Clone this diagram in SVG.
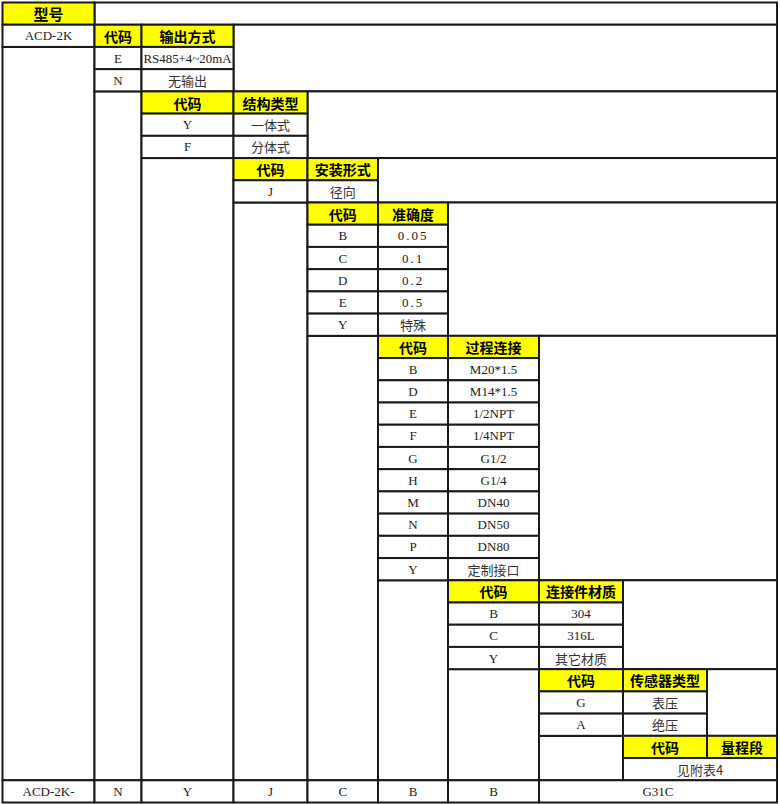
<svg xmlns="http://www.w3.org/2000/svg" width="780" height="804" viewBox="0 0 780 804">
<style>
rect{stroke:#1a1a1a;stroke-width:2}
.y{fill:#ffff00}
.w{fill:#ffffff}
text{text-anchor:middle;dominant-baseline:central}
.h{font-family:"Noto Sans CJK SC",sans-serif;font-weight:bold;font-size:14px;fill:#000}
.t{font-family:"Liberation Serif","Noto Sans CJK SC",serif;font-size:13px;fill:#222}
.c{font-family:"Noto Sans CJK SC",sans-serif;font-size:13px;fill:#333}
</style>
<rect x="0" y="0" width="780" height="804" fill="#fff" style="stroke:none"/>
<g id="blanks">
<rect class="w" x="94.5" y="2.5" width="682.5" height="22.22"/>
<rect class="w" x="233.5" y="24.72" width="543.5" height="66.67"/>
<rect class="w" x="2.5" y="46.94" width="92" height="733.34"/>
<rect class="w" x="94.5" y="91.39" width="47" height="688.89"/>
<rect class="w" x="307.5" y="91.39" width="469.5" height="66.67"/>
<rect class="w" x="141.5" y="158.06" width="92" height="622.22"/>
<rect class="w" x="378" y="158.06" width="399" height="44.44"/>
<rect class="w" x="233.5" y="202.5" width="74" height="577.78"/>
<rect class="w" x="448" y="202.5" width="329" height="133.33"/>
<rect class="w" x="307.5" y="335.83" width="70.5" height="444.45"/>
<rect class="w" x="539" y="335.83" width="238" height="244.45"/>
<rect class="w" x="378" y="580.28" width="70" height="200"/>
<rect class="w" x="623" y="580.28" width="154" height="88.89"/>
<rect class="w" x="448" y="669.17" width="91" height="111.11"/>
<rect class="w" x="707" y="669.17" width="70" height="66.67"/>
<rect class="w" x="539" y="735.83" width="84" height="44.45"/>
</g>
<g id="model">
<rect class="y" x="2.5" y="2.5" width="92" height="22.22"/><text class="h" x="48.5" y="13.6" style="font-size:15px">型号</text>
<rect class="w" x="2.5" y="24.72" width="92" height="22.22"/><text class="t" x="48.5" y="35.8">ACD-2K</text>
</g>
<g id="output">
<rect class="y" x="94.5" y="24.72" width="47" height="22.22"/><text class="h" x="118" y="35.8">代码</text>
<rect class="y" x="141.5" y="24.72" width="92" height="22.22"/><text class="h" x="187.5" y="35.8">输出方式</text>
<rect class="w" x="94.5" y="46.94" width="47" height="22.22"/><text class="t" x="118" y="58.1">E</text>
<rect class="w" x="141.5" y="46.94" width="92" height="22.22"/><text class="t" x="187.5" y="58.1" textLength="88" lengthAdjust="spacingAndGlyphs">RS485+4~20mA</text>
<rect class="w" x="94.5" y="69.17" width="47" height="22.22"/><text class="t" x="118" y="80.3">N</text>
<rect class="w" x="141.5" y="69.17" width="92" height="22.22"/><text class="c" x="187.5" y="80.3">无输出</text>
</g>
<g id="structure">
<rect class="y" x="141.5" y="91.39" width="92" height="22.22"/><text class="h" x="187.5" y="102.5">代码</text>
<rect class="y" x="233.5" y="91.39" width="74" height="22.22"/><text class="h" x="270.5" y="102.5">结构类型</text>
<rect class="w" x="141.5" y="113.61" width="92" height="22.22"/><text class="t" x="187.5" y="124.7">Y</text>
<rect class="w" x="233.5" y="113.61" width="74" height="22.22"/><text class="c" x="270.5" y="124.7">一体式</text>
<rect class="w" x="141.5" y="135.83" width="92" height="22.22"/><text class="t" x="187.5" y="146.9">F</text>
<rect class="w" x="233.5" y="135.83" width="74" height="22.22"/><text class="c" x="270.5" y="146.9">分体式</text>
</g>
<g id="mounting">
<rect class="y" x="233.5" y="158.06" width="74" height="22.22"/><text class="h" x="270.5" y="169.2">代码</text>
<rect class="y" x="307.5" y="158.06" width="70.5" height="22.22"/><text class="h" x="342.75" y="169.2">安装形式</text>
<rect class="w" x="233.5" y="180.28" width="74" height="22.22"/><text class="t" x="270.5" y="191.4">J</text>
<rect class="w" x="307.5" y="180.28" width="70.5" height="22.22"/><text class="c" x="342.75" y="191.4">径向</text>
</g>
<g id="accuracy">
<rect class="y" x="307.5" y="202.5" width="70.5" height="22.22"/><text class="h" x="342.75" y="213.6">代码</text>
<rect class="y" x="378" y="202.5" width="70" height="22.22"/><text class="h" x="413" y="213.6">准确度</text>
<rect class="w" x="307.5" y="224.72" width="70.5" height="22.22"/><text class="t" x="342.75" y="235.8">B</text>
<rect class="w" x="378" y="224.72" width="70" height="22.22"/><text class="t" x="413" y="235.8" letter-spacing="2">0.05</text>
<rect class="w" x="307.5" y="246.94" width="70.5" height="22.22"/><text class="t" x="342.75" y="258.1">C</text>
<rect class="w" x="378" y="246.94" width="70" height="22.22"/><text class="t" x="413" y="258.1" letter-spacing="2">0.1</text>
<rect class="w" x="307.5" y="269.17" width="70.5" height="22.22"/><text class="t" x="342.75" y="280.3">D</text>
<rect class="w" x="378" y="269.17" width="70" height="22.22"/><text class="t" x="413" y="280.3" letter-spacing="2">0.2</text>
<rect class="w" x="307.5" y="291.39" width="70.5" height="22.22"/><text class="t" x="342.75" y="302.5">E</text>
<rect class="w" x="378" y="291.39" width="70" height="22.22"/><text class="t" x="413" y="302.5" letter-spacing="2">0.5</text>
<rect class="w" x="307.5" y="313.61" width="70.5" height="22.22"/><text class="t" x="342.75" y="324.7">Y</text>
<rect class="w" x="378" y="313.61" width="70" height="22.22"/><text class="c" x="413" y="324.7">特殊</text>
</g>
<g id="process">
<rect class="y" x="378" y="335.83" width="70" height="22.22"/><text class="h" x="413" y="346.9">代码</text>
<rect class="y" x="448" y="335.83" width="91" height="22.22"/><text class="h" x="493.5" y="346.9">过程连接</text>
<rect class="w" x="378" y="358.06" width="70" height="22.22"/><text class="t" x="413" y="369.2">B</text>
<rect class="w" x="448" y="358.06" width="91" height="22.22"/><text class="t" x="493.5" y="369.2">M20*1.5</text>
<rect class="w" x="378" y="380.28" width="70" height="22.22"/><text class="t" x="413" y="391.4">D</text>
<rect class="w" x="448" y="380.28" width="91" height="22.22"/><text class="t" x="493.5" y="391.4">M14*1.5</text>
<rect class="w" x="378" y="402.5" width="70" height="22.22"/><text class="t" x="413" y="413.6">E</text>
<rect class="w" x="448" y="402.5" width="91" height="22.22"/><text class="t" x="493.5" y="413.6">1/2NPT</text>
<rect class="w" x="378" y="424.72" width="70" height="22.22"/><text class="t" x="413" y="435.8">F</text>
<rect class="w" x="448" y="424.72" width="91" height="22.22"/><text class="t" x="493.5" y="435.8">1/4NPT</text>
<rect class="w" x="378" y="446.94" width="70" height="22.22"/><text class="t" x="413" y="458.1">G</text>
<rect class="w" x="448" y="446.94" width="91" height="22.22"/><text class="t" x="493.5" y="458.1">G1/2</text>
<rect class="w" x="378" y="469.17" width="70" height="22.22"/><text class="t" x="413" y="480.3">H</text>
<rect class="w" x="448" y="469.17" width="91" height="22.22"/><text class="t" x="493.5" y="480.3">G1/4</text>
<rect class="w" x="378" y="491.39" width="70" height="22.22"/><text class="t" x="413" y="502.5">M</text>
<rect class="w" x="448" y="491.39" width="91" height="22.22"/><text class="t" x="493.5" y="502.5">DN40</text>
<rect class="w" x="378" y="513.61" width="70" height="22.22"/><text class="t" x="413" y="524.7">N</text>
<rect class="w" x="448" y="513.61" width="91" height="22.22"/><text class="t" x="493.5" y="524.7">DN50</text>
<rect class="w" x="378" y="535.83" width="70" height="22.22"/><text class="t" x="413" y="546.9">P</text>
<rect class="w" x="448" y="535.83" width="91" height="22.22"/><text class="t" x="493.5" y="546.9">DN80</text>
<rect class="w" x="378" y="558.06" width="70" height="22.22"/><text class="t" x="413" y="569.2">Y</text>
<rect class="w" x="448" y="558.06" width="91" height="22.22"/><text class="c" x="493.5" y="569.2">定制接口</text>
</g>
<g id="material">
<rect class="y" x="448" y="580.28" width="91" height="22.22"/><text class="h" x="493.5" y="591.4">代码</text>
<rect class="y" x="539" y="580.28" width="84" height="22.22"/><text class="h" x="581" y="591.4">连接件材质</text>
<rect class="w" x="448" y="602.5" width="91" height="22.22"/><text class="t" x="493.5" y="613.6">B</text>
<rect class="w" x="539" y="602.5" width="84" height="22.22"/><text class="t" x="581" y="613.6">304</text>
<rect class="w" x="448" y="624.72" width="91" height="22.22"/><text class="t" x="493.5" y="635.8">C</text>
<rect class="w" x="539" y="624.72" width="84" height="22.22"/><text class="t" x="581" y="635.8">316L</text>
<rect class="w" x="448" y="646.94" width="91" height="22.22"/><text class="t" x="493.5" y="658.1">Y</text>
<rect class="w" x="539" y="646.94" width="84" height="22.22"/><text class="c" x="581" y="658.1">其它材质</text>
</g>
<g id="sensor">
<rect class="y" x="539" y="669.17" width="84" height="22.22"/><text class="h" x="581" y="680.3">代码</text>
<rect class="y" x="623" y="669.17" width="84" height="22.22"/><text class="h" x="665" y="680.3">传感器类型</text>
<rect class="w" x="539" y="691.39" width="84" height="22.22"/><text class="t" x="581" y="702.5">G</text>
<rect class="w" x="623" y="691.39" width="84" height="22.22"/><text class="c" x="665" y="702.5">表压</text>
<rect class="w" x="539" y="713.61" width="84" height="22.22"/><text class="t" x="581" y="724.7">A</text>
<rect class="w" x="623" y="713.61" width="84" height="22.22"/><text class="c" x="665" y="724.7">绝压</text>
</g>
<g id="range">
<rect class="y" x="623" y="735.83" width="84" height="22.22"/><text class="h" x="665" y="746.9">代码</text>
<rect class="y" x="707" y="735.83" width="70" height="22.22"/><text class="h" x="742" y="746.9">量程段</text>
<rect class="w" x="623" y="758.06" width="154" height="22.22"/><text class="c" x="700" y="769.2">见附表4</text>
</g>
<g id="example">
<rect class="w" x="2.5" y="780.28" width="92" height="22.22"/><text class="t" x="48.5" y="791.4">ACD-2K-</text>
<rect class="w" x="94.5" y="780.28" width="47" height="22.22"/><text class="t" x="118" y="791.4">N</text>
<rect class="w" x="141.5" y="780.28" width="92" height="22.22"/><text class="t" x="187.5" y="791.4">Y</text>
<rect class="w" x="233.5" y="780.28" width="74" height="22.22"/><text class="t" x="270.5" y="791.4">J</text>
<rect class="w" x="307.5" y="780.28" width="70.5" height="22.22"/><text class="t" x="342.75" y="791.4">C</text>
<rect class="w" x="378" y="780.28" width="70" height="22.22"/><text class="t" x="413" y="791.4">B</text>
<rect class="w" x="448" y="780.28" width="91" height="22.22"/><text class="t" x="493.5" y="791.4">B</text>
<rect class="w" x="539" y="780.28" width="238" height="22.22"/><text class="t" x="658" y="791.4">G31C</text>
</g>
<g id="connectors"/>
</svg>
